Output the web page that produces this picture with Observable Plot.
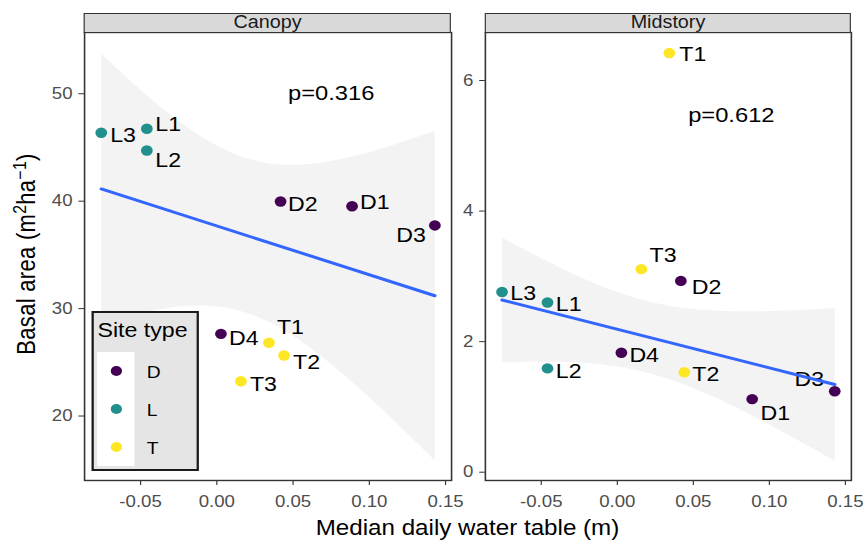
<!DOCTYPE html>
<html>
<head>
<meta charset="utf-8">
<script src="https://cdn.jsdelivr.net/npm/d3@7"></script>
<script src="https://cdn.jsdelivr.net/npm/@observablehq/plot@0.6"></script>
<style>
  html, body { margin: 0; padding: 0; background: #fff; overflow: hidden; }
  #chart { position: relative; height: 540px; transform-origin: 0 0;
           font-family: "Liberation Sans", Arial, sans-serif; color: #000; }
  #chart .abs { position: absolute; white-space: nowrap; }
  #chart svg { position: absolute; top: 0; }
</style>
</head>
<body>
<div id="chart"></div>
<script>
// ---- Site data -------------------------------------------------------
const sites      = ["D1", "D2", "D3", "D4", "L1", "L2", "L3", "T1", "T2", "T3"];
const siteType   = ["D", "D", "D", "D", "L", "L", "L", "T", "T", "T"];
const waterTable = [0.0887, 0.0418, 0.1430, 0.0027, -0.0459, -0.0459, -0.0758, 0.0342, 0.0441, 0.0158];
const canopyBA   = [39.53, 39.97, 37.74, 27.65, 46.74, 44.72, 46.37, 26.82, 25.63, 23.24];
const midstoryBA = [1.12, 2.93, 1.24, 1.83, 2.60, 1.59, 2.76, 6.42, 1.53, 3.11];

// T1 is left out of the fitted trend lines
const excludedFromFit = ["T1"];

const typeDomain = ["D", "L", "T"];
const typeColors = ["#440154", "#21908C", "#FDE725"];

const panelNames  = ["Canopy", "Midstory"];
const pValueText  = ["p=0.316", "p=0.612"];
const pValueX     = [0.075, 0.075];
const pValueY     = [50, 5.47];

const xTicks        = [-0.05, 0, 0.05, 0.10, 0.15];
const canopyTicks   = [20, 30, 40, 50];
const midstoryTicks = [0, 2, 4, 6];

// ---- Layout ------------------------------------------------------------
// The figure is drawn at a narrower width and widened horizontally by SX.
const SX = 1.13;
const chart = document.getElementById("chart");
chart.style.width = (864 / SX) + "px";
chart.style.transform = `scaleX(${SX})`;

function box(x, y, w, h, css) {
  const el = document.createElement("div");
  el.className = "abs";
  el.style.left = (x / SX) + "px";
  el.style.top = y + "px";
  if (w != null) el.style.width = (w / SX) + "px";
  if (h != null) el.style.height = h + "px";
  Object.assign(el.style, css || {});
  chart.appendChild(el);
  return el;
}
// place a single line of text by its baseline
function textAt(str, x, baseline, size, css) {
  const el = box(x, baseline - 0.8465 * size, null, null,
    Object.assign({fontSize: size + "px", lineHeight: size + "px"}, css || {}));
  el.textContent = str;
  return el;
}

const xExt = d3.extent(waterTable);
const xPad = (xExt[1] - xExt[0]) * 0.05;
const xDomain = [xExt[0] - xPad, xExt[1] + xPad];

// label offsets (px) from each dot, per panel
const labelNudge = {
  Canopy: {L3: [9, 1.5], L1: [8.5, -5], L2: [8.5, 9], D2: [7.5, 2], D1: [8, -4.5],
           D3: [-9, 9], D4: [8, 4], T1: [8, -16], T2: [9, 6], T3: [9, 2.5]},
  Midstory: {T1: [10, 1], T3: [8.3, -15], D2: [11, 5.6], L3: [8.3, 1], L1: [8.3, 1.5],
             D4: [8, 1.5], L2: [8.3, 2], T2: [8, 1.6], D1: [8.4, 13.4], D3: [-10.7, -12.7]}
};

const panels = [
  {name: panelNames[0], values: canopyBA, yDomain: [14.0, 55.7], yTicks: canopyTicks,
   svg: [0, 468], frame: [84, 451]},
  {name: panelNames[1], values: midstoryBA, yDomain: [-0.127, 6.735], yTicks: midstoryTicks,
   svg: [468, 864], frame: [485, 851]}
];

panels.forEach((p, k) => {
  const rows = sites.map((s, i) => ({site: s, type: siteType[i], x: waterTable[i], y: p.values[i]}));
  const fitRows = rows.filter(d => !excludedFromFit.includes(d.site));
  const labels = rows.map(d => {
    const [nx, ny] = labelNudge[p.name][d.site];
    return Plot.text([d], {x: "x", y: "y", text: "site", dx: nx / SX, dy: ny + 0.8,
      textAnchor: nx < 0 ? "end" : "start", fontSize: 20.5, fill: "#000"});
  });
  const svg = Plot.plot({
    width: (p.svg[1] - p.svg[0]) / SX,
    height: 540,
    marginLeft: (p.frame[0] - p.svg[0]) / SX,
    marginRight: (p.svg[1] - p.frame[1]) / SX,
    marginTop: 32,
    marginBottom: 60,
    style: {fontFamily: "'Liberation Sans', Arial, sans-serif", overflow: "visible",
            background: "transparent", maxWidth: "none"},
    x: {domain: xDomain, label: null},
    y: {domain: p.yDomain, label: null},
    color: {domain: typeDomain, range: typeColors},
    marks: [
      Plot.linearRegressionY(fitRows, {x: "x", y: "y", stroke: "none", fill: "#8a8a8a", fillOpacity: 0.1}),
      Plot.dot(rows, {x: "x", y: "y", fill: "type", r: 5.2}),
      ...labels,
      Plot.text([{x: pValueX[k], y: pValueY[k], t: pValueText[k]}],
        {x: "x", y: "y", text: "t", fontSize: 21, fill: "#000"}),
      Plot.linearRegressionY(fitRows, {x: "x", y: "y", ci: 0, stroke: "#3366FF", strokeWidth: 3}),
      Plot.axisX({ticks: xTicks, tickFormat: d => d.toFixed(2), tickSize: 5, tickPadding: 10,
        fontSize: 16.5, stroke: "#333", fill: "#4d4d4d", label: null}),
      Plot.axisY({ticks: p.yTicks, tickFormat: d => String(d), tickSize: 5, tickPadding: 5.6,
        fontSize: 16.5, stroke: "#333", fill: "#4d4d4d", label: null}),
      Plot.frame({stroke: "#333", strokeWidth: 1.4})
    ]
  });
  svg.style.left = (p.svg[0] / SX) + "px";
  chart.appendChild(svg);

  // facet strip
  const strip = box(p.frame[0], 13, p.frame[1] - p.frame[0], 19.5, {
    boxSizing: "border-box", border: "1.4px solid #333", background: "#d9d9d9", overflow: "hidden"});
  const st = document.createElement("div");
  Object.assign(st.style, {position: "absolute", left: 0, right: 0, top: "0.2px", textAlign: "center",
    fontSize: "17.5px", lineHeight: "17.5px", color: "#1a1a1a"});
  st.textContent = p.name;
  strip.appendChild(st);
});

// ---- Axis titles -------------------------------------------------------
const xt = box(84, 536 - 0.8465 * 21.4, 851 - 84, null,
  {fontSize: "21.4px", lineHeight: "21.4px", textAlign: "center"});
xt.textContent = "Median daily water table (m)";

const yt = box(27, 254, null, null, {fontSize: "22px", lineHeight: "22px",
  transform: "translate(-50%, -50%) rotate(-90deg)", letterSpacing: "0.3px"});
yt.innerHTML = 'Basal area (m<sup style="font-size:0.72em;vertical-align:0.5em;line-height:0">2</sup>ha<sup style="font-size:0.72em;vertical-align:0.5em;line-height:0">\u22121</sup>)';

// ---- Legend ------------------------------------------------------------
box(92, 311, 107, 160, {boxSizing: "border-box", border: "2px solid #1a1a1a", background: "#e5e5e5"});
textAt("Site type", 97.5, 337.4, 20.5);
box(97, 352, 38, 114, {background: "#fff"});
typeDomain.forEach((t, i) => {
  const cy = 352 + 38 * (i + 0.5);
  const d = 10.3;
  box(116.7 - d * SX / 2, cy - d / 2, d * SX, d,
    {background: typeColors[i], borderRadius: "50%"});
  textAt(t, 146.7, cy + 1.5 + 0.358 * 17, 17);
});
</script>
</body>
</html>
